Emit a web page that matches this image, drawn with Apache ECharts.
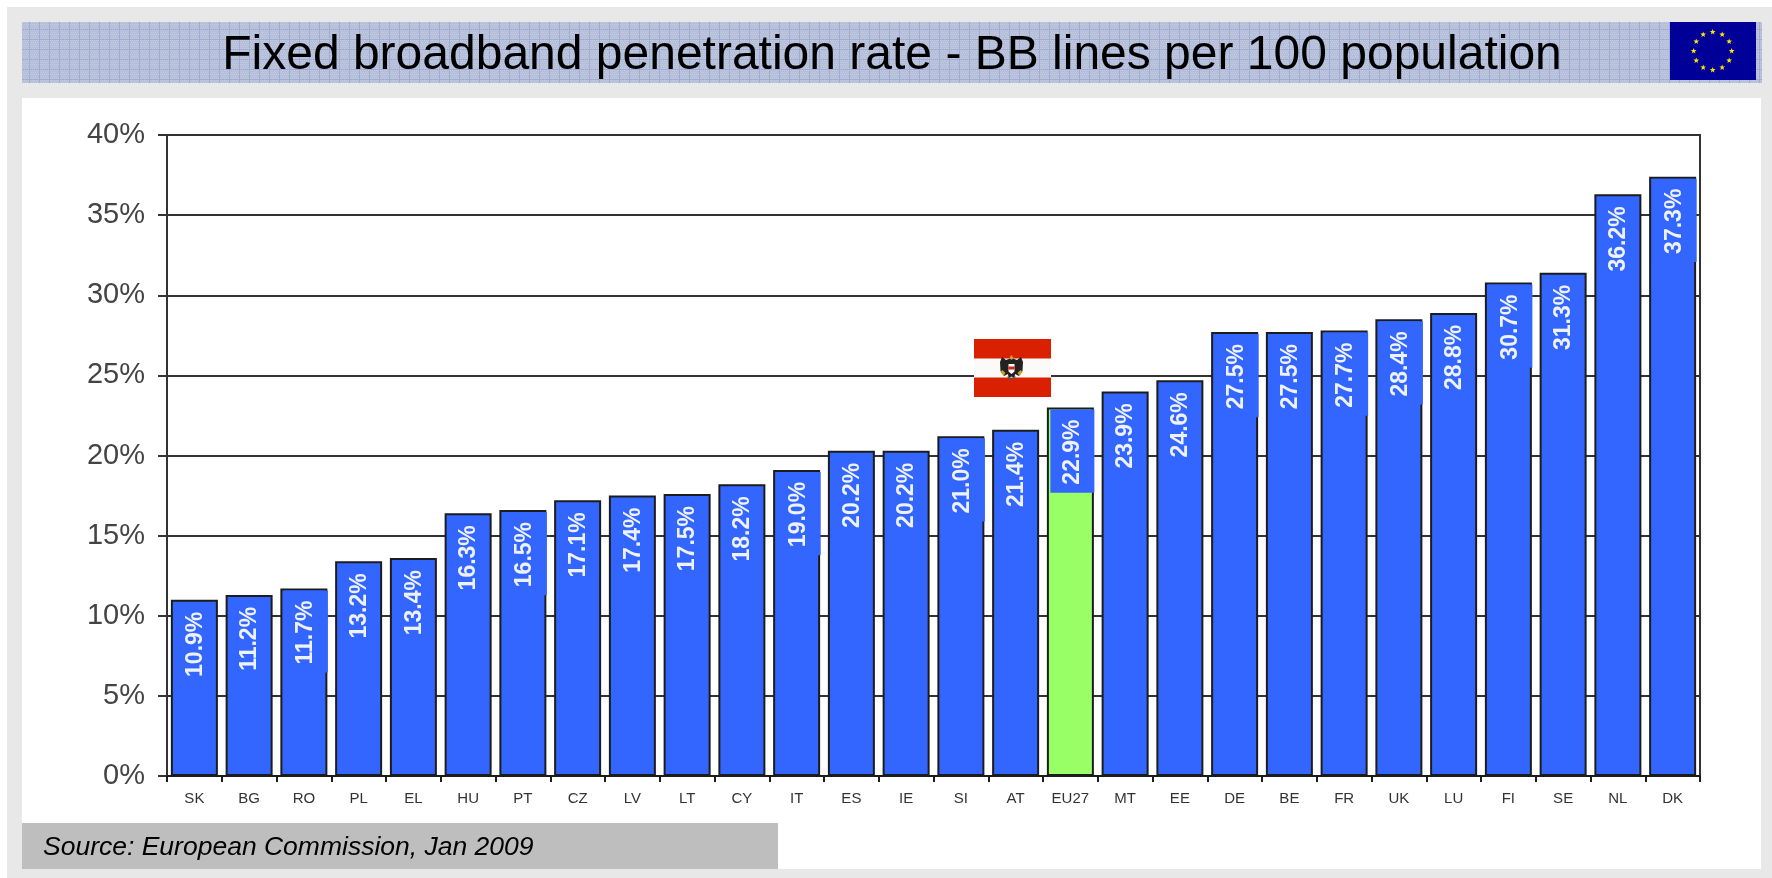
<!DOCTYPE html>
<html><head><meta charset="utf-8">
<style>html,body{margin:0;padding:0;background:#fff}#c{width:1772px;height:878px;filter:blur(0.45px)}</style>
<script src="https://cdn.jsdelivr.net/npm/echarts@6/dist/echarts.min.js"></script>
</head><body><div id="c"></div>
<script>
const categories = ['SK','BG','RO','PL','EL','HU','PT','CZ','LV','LT','CY','IT','ES','IE','SI','AT','EU27','MT','EE','DE','BE','FR','UK','LU','FI','SE','NL','DK'];
const printedValues = [10.9,11.2,11.7,13.2,13.4,16.3,16.5,17.1,17.4,17.5,18.2,19.0,20.2,20.2,21.0,21.4,22.9,23.9,24.6,27.5,27.5,27.7,28.4,28.8,30.7,31.3,36.2,37.3];
const barHeights = [11.0,11.3,11.7,13.4,13.6,16.4,16.6,17.2,17.5,17.6,18.2,19.1,20.3,20.3,21.2,21.6,23.0,24.0,24.7,27.7,27.7,27.8,28.5,28.9,30.8,31.4,36.3,37.4];
const highlighted = 'EU27';
const patchedLabels = ['RO','PT','IT','SI','EU27','DE','FR','UK','FI','DK'];
const titleText = 'Fixed broadband penetration rate - BB lines per 100 population';
const sourceText = 'Source: European Commission, Jan 2009';

const BLUE = '#3366FF', GREEN = '#99FF66', INK = '#1c1c1c', PANEL = '#E8E8E8';

function bannerPattern() {
  const cv = document.createElement('canvas');
  cv.width = 10; cv.height = 10;
  const g = cv.getContext('2d');
  g.fillStyle = '#B6BFDA'; g.fillRect(0,0,10,10);
  g.fillStyle = '#C4CBDF';
  for (let y=0;y<10;y+=2) for (let x=(y/2)%2;x<10;x+=2) g.fillRect(x,y,1,1);
  g.fillStyle = '#9FACD3';
  g.fillRect(9,0,1,10); g.fillRect(0,9,10,1);
  return cv;
}
function star(cx, cy, r) {
  const pts = [];
  for (let i=0;i<10;i++) {
    const a = -Math.PI/2 + i*Math.PI/5, q = i%2 ? r*0.42 : r;
    pts.push([cx+q*Math.cos(a), cy+q*Math.sin(a)]);
  }
  return {type:'polygon', z:7, shape:{points:pts}, style:{fill:'#FFE600'}};
}
const euStars = [];
for (let i=0;i<12;i++) {
  const a = i*Math.PI/6;
  euStars.push(star(1712.7+19*Math.cos(a), 51+19*Math.sin(a), 3));
}
function poly(points, fill) { return {type:'polygon', z:8, shape:{points}, style:{fill}}; }
const eagle = [
  poly([[1011.5,358],[1006,360],[1002,357],[1000,362],[1000.5,371],[1004,376],[1008,374],[1008.5,378],[1011.5,376.5],[1014.5,378],[1015,374],[1019,376],[1022.5,371],[1023,362],[1021,357],[1017,360]], '#222'),
  poly([[1007,376],[1011.5,379],[1016,376],[1014,379.5],[1009,379.5]], '#555'),
  poly([[1008.5,364],[1014.5,364],[1014.5,371.5],[1011.5,374],[1008.5,371.5]], '#fff'),
  poly([[1008.5,366.5],[1014.5,366.5],[1014.5,369.5],[1008.5,369.5]], '#D9230F'),
  poly([[1009.5,358],[1011.5,355],[1013.5,358],[1011.5,360]], '#D8A020'),
  poly([[1002.5,370],[1005.5,373],[1003.5,376],[1000.5,372]], '#C9A030'),
  poly([[1020.5,370],[1017.5,373],[1019.5,376],[1022.5,372]], '#C9A030')
];

const chart = echarts.init(document.getElementById('c'), null, {renderer:'canvas'});
chart.setOption({
  animation:false,
  backgroundColor:'#fff',
  graphic:[
    {type:'rect', z:-10, shape:{x:7,y:7,width:1765,height:871}, style:{fill:PANEL}, silent:true},
    {type:'rect', z:-9, shape:{x:22,y:98,width:1739,height:771}, style:{fill:'#fff'}, silent:true},
    {type:'rect', z:-9, shape:{x:22,y:22,width:1740,height:61}, style:{fill:{image:bannerPattern(),repeat:'repeat'}}, silent:true},
    {type:'text', z:5, style:{x:892,y:56,text:titleText,font:'48px "Liberation Sans"',fill:'#000',textAlign:'center',textVerticalAlign:'middle'}},
    {type:'rect', z:5, shape:{x:1670,y:22,width:86,height:58}, style:{fill:'#000099'}},
    {type:'group', children:euStars},
    {type:'rect', z:5, shape:{x:22,y:823,width:756,height:46}, style:{fill:'#BEBEBE'}},
    {type:'text', z:6, style:{x:43,y:848,text:sourceText,font:'italic 26.5px "Liberation Sans"',fill:'#000',textVerticalAlign:'middle'}},
    {type:'rect', z:5, shape:{x:974,y:339,width:77,height:58}, style:{fill:'#D92000'}},
    {type:'rect', z:6, shape:{x:974,y:358.5,width:77,height:19}, style:{fill:'#FBFAF8'}},
    {type:'group', children:eagle}
  ],
  grid:{left:167,right:72,top:135,bottom:102,show:true,borderColor:'#333',borderWidth:2,backgroundColor:'transparent'},
  xAxis:{
    type:'category',data:categories,
    axisLine:{lineStyle:{color:INK,width:2}},
    axisTick:{show:true,alignWithLabel:false,length:6,lineStyle:{color:INK,width:2}},
    axisLabel:{interval:0,margin:15,fontSize:15,color:'#333',fontFamily:'"Liberation Sans"'}
  },
  yAxis:{
    type:'value',min:0,max:40,interval:5,
    axisLine:{show:true,lineStyle:{color:'#333',width:2}},
    axisTick:{show:true,length:9,lineStyle:{color:'#333',width:2}},
    splitLine:{show:true,lineStyle:{color:'#333',width:2}},
    axisLabel:{margin:22,fontSize:29,color:'#444',fontFamily:'"Liberation Sans"',formatter:'{value}%',padding:[2,0,0,0]}
  },
  series:[{
    type:'bar',barWidth:47,
    data:barHeights.map((v,i)=>{
      const cat = categories[i], patched = patchedLabels.includes(cat);
      return {
        value:v,
        itemStyle:{color:cat===highlighted?GREEN:BLUE,borderColor:INK,borderWidth:2},
        label:patched?{backgroundColor:BLUE,lineHeight:44,padding:[0,10,0,8],offset:[0,2],distance:2}
                     :{lineHeight:24,padding:[0,0,0,0],offset:[0,1],distance:12}
      };
    }),
    label:{
      show:true,position:'insideTop',rotate:90,align:'right',verticalAlign:'middle',
      color:'#EEF2FF',fontSize:23,fontWeight:'bold',fontFamily:'"Liberation Sans"',
      formatter:p=>printedValues[p.dataIndex].toFixed(1)+'%'
    }
  }]
});
</script></body></html>
